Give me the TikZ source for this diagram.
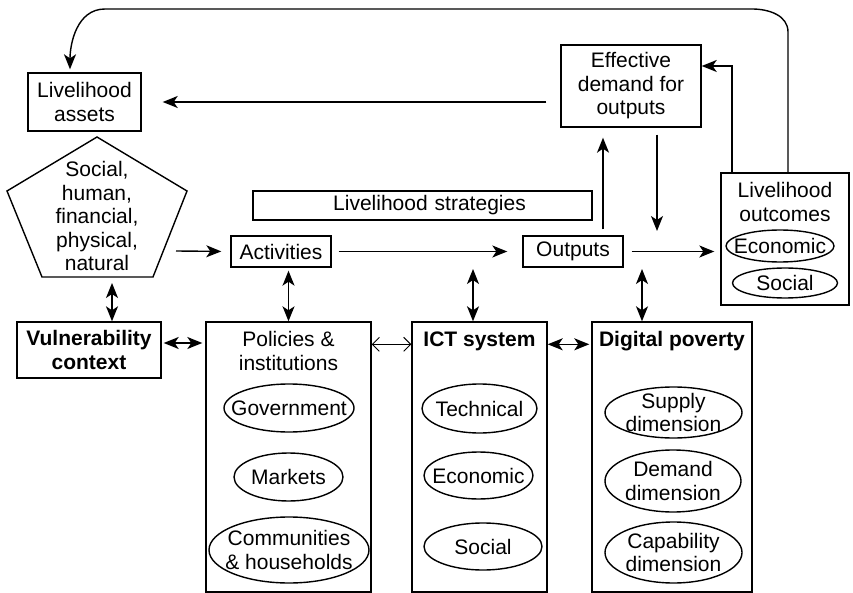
\documentclass[tikz,border=0pt]{standalone}
\usepackage{fontspec}
\setmainfont{Liberation Sans}
\usetikzlibrary{arrows.meta,shapes.geometric}

\begin{document}
\begin{tikzpicture}[
x=1pt,y=-1pt,
font=\fontsize{21}{23.5}\selectfont,
box/.style={draw,line width=1.4pt,align=center,inner sep=0pt},
heading/.style={font=\fontsize{21}{23.5}\selectfont\bfseries},
title/.style={anchor=north,align=center,inner sep=0pt,yshift=-10pt},
oval/.style={draw,ellipse,line width=1.4pt,inner sep=0pt},
bighead/.tip={Stealth[length=15pt,width=12pt,inset=4pt]},
link/.style={line width=1.4pt,-bighead},
both/.style={line width=1.4pt,bighead-bighead},
thinboth/.style={line width=0.9pt,{Straight Barb[length=7pt,width=14pt]}-{Straight Barb[length=7pt,width=14pt]}}
]
\useasboundingbox (0,0) rectangle (853,593);

% upper row
\node[box,minimum width=113,minimum height=58] (assets) at (84.5,102) {Livelihood\\assets};
\node[align=center,inner sep=0pt] (capital) at (97,216) {Social,\\human,\\financial,\\physical,\\natural};
\draw[line width=1.4pt] (97,137) -- (187,191) -- (153,277) -- (42,277) -- (7,191) -- cycle;
\coordinate (pentr) at (176,251);
\coordinate (pentb) at (112,283);
\node[box,minimum width=339,minimum height=29,text width=339,align=center,xshift=0pt] (strat) at (422.5,205.5) {\hspace*{14pt}Livelihood strategies};
\node[box,minimum width=100,minimum height=31] (activ) at (281,251.5) {Activities};
\node[box,minimum width=100,minimum height=31] (outp) at (573,251.5) {Outputs};
\node[box,minimum width=140,minimum height=82] (demand) at (631,86) {Effective\\demand for\\outputs};
\node[box,minimum width=128,minimum height=132] (outc) at (785,239) {};
\node[title] (outct) at (outc.north) {Livelihood\\outcomes};
\node[oval,minimum width=108,minimum height=32,label=center:Economic] (oeco) at (780,246) {};
\node[oval,minimum width=105,minimum height=30,label=center:Social] (osoc) at (785,283) {};

% lower row
\node[box,heading,minimum width=144,minimum height=56] (vuln) at (89,350) {Vulnerability\\context};
\node[box,minimum width=165,minimum height=270] (polic) at (288.5,457) {};
\node[title] (polict) at (polic.north) {Policies \&\\institutions};
\node[oval,minimum width=130,minimum height=48,label=center:Government] (gov) at (289,408) {};
\node[oval,minimum width=109,minimum height=48,label=center:Markets] (mkt) at (288.5,477) {};
\node[oval,minimum width=160,minimum height=66,label={[align=center]center:{Communities\\\& households}}] (comm) at (289,550) {};
\node[box,minimum width=135,minimum height=270] (ict) at (479.5,457) {};
\node[title,heading] (ictt) at (ict.north) {ICT system};
\node[oval,minimum width=115,minimum height=49,label=center:Technical] (tech) at (479.5,408.5) {};
\node[oval,minimum width=109,minimum height=47,label=center:Economic] (econ) at (478.5,475.5) {};
\node[oval,minimum width=118,minimum height=47,label=center:Social] (soc) at (483,546.5) {};
\node[box,minimum width=160,minimum height=270] (digit) at (672,457) {};
\node[title,heading] (digitt) at (digit.north) {Digital poverty};
\node[oval,minimum width=137,minimum height=51,label={[align=center]center:{Supply\\dimension}}] (supply) at (673.5,412.5) {};
\node[oval,minimum width=136,minimum height=62,label={[align=center]center:{Demand\\dimension}}] (dmnd) at (673,481) {};
\node[oval,minimum width=137,minimum height=61,label={[align=center]center:{Capability\\dimension}}] (capab) at (673.5,552.5) {};

\coordinate (c1) at (473,269);
\coordinate (c2) at (642,269);
\coordinate (drop) at (657,231);

% arrows
\draw[link,shorten >=3pt] ([xshift=3pt]outc.north) -- (788,32) to[out=90,in=0] (752,9) -- (105,9) to[out=180,in=90] ([xshift=-14.5pt]assets.north);
\draw[link,shorten <=14pt,shorten >=21pt] (demand.west |- assets.east) -- (assets.east);
\draw[link] ([xshift=-53pt]outc.north) |- ([yshift=20pt]demand.east);
\draw[link,shorten <=6pt,shorten >=10pt] ([xshift=30pt]outp.north) -- ([xshift=30pt]outp.north |- demand.south);
\draw[link,shorten <=7pt] (drop |- demand.south) -- (drop);
\draw[link,shorten >=9pt] (pentr) -- (activ.west);
\draw[link,shorten <=7pt,shorten >=15pt] (activ.east) -- (outp.west);
\draw[link,shorten <=8pt,shorten >=6pt] (outp.east) -- (outp.east -| outc.west);
\draw[both] (pentb) -- (pentb |- vuln.north);
\draw[both,shorten <=3pt] (polic.north |- activ.south) -- (polic.north);
\draw[both] (c1) -- (c1 |- ict.north);
\draw[both] (c2) -- (c2 |- digit.north);
\draw[both,shorten <=2pt,shorten >=3pt] ([yshift=7pt]vuln.east) -- ([yshift=7pt]vuln.east -| polic.west);
\draw[thinboth] ([yshift=-23pt]polic.north east) -- ([yshift=-23pt]polic.north east -| ict.west);
\draw[both,shorten >=2pt] ([yshift=-23pt]ict.north east) -- ([yshift=-23pt]ict.north east -| digit.west);
\end{tikzpicture}
\end{document}
